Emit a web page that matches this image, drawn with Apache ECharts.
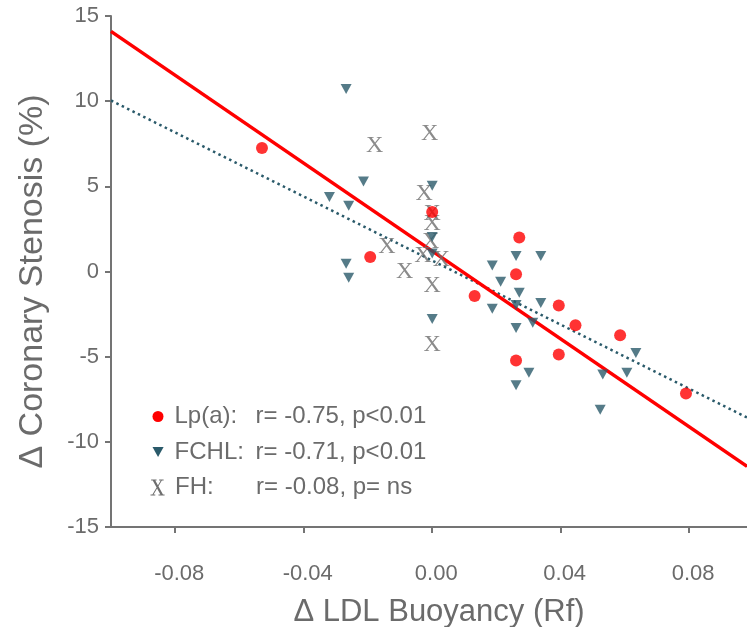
<!DOCTYPE html>
<html>
<head>
<meta charset="utf-8">
<script src="https://cdn.jsdelivr.net/npm/echarts@6/dist/echarts.min.js"></script>
<style>
html,body{margin:0;padding:0;background:#fff;}
#chart{width:747px;height:627px;}
</style>
</head>
<body>
<div id="chart"></div>
<script>
// ---- data ----
var seriesNames = ['Lp(a)', 'FCHL', 'FH'];
var statTexts = ['r= -0.75, p<0.01', 'r= -0.71, p<0.01', 'r= -0.08, p= ns'];

var lpX = [-0.0530, -0.0193, 0.0000, 0.0132, 0.0271, 0.0261, 0.0261, 0.0394, 0.0394, 0.0446, 0.0585, 0.0790];
var lpY = [7.25, 0.85, 3.5, -1.44, 1.99, -0.16, -5.22, -1.99, -4.87, -3.15, -3.74, -7.16];

var fchlX = [-0.0268, -0.0214, -0.0320, -0.0260, -0.0268, -0.0260, 0.0000, 0.0000, 0.0000, 0.0000,
             0.0187, 0.0213, 0.0187, 0.0261, 0.0338, 0.0271, 0.0261, 0.0338, 0.0313, 0.0261,
             0.0634, 0.0301, 0.0531, 0.0606, 0.0261, 0.0523];
var fchlY = [10.72, 5.29, 4.38, 3.86, 0.46, -0.36, 5.03, 2.03, 1.06, -2.79,
             0.35, -0.60, -2.19, 0.91, 0.91, -1.25, -1.97, -1.85, -3.01, -3.31,
             -4.78, -5.95, -6.05, -5.95, -6.68, -8.11];

var fhX = [-0.0008, -0.0179, -0.0025, 0.0000, 0.0000, -0.0005, -0.0141, -0.0029, 0.0029, -0.0086, 0.0000, 0.0000];
var fhY = [8.09, 7.38, 4.54, 3.38, 2.82, 1.76, 1.46, 0.91, 0.68, -0.03, -0.85, -4.32];

// regression lines: [intercept, slope]
var lpFit = [1.2, -129];
var fchlFit = [0.64, -94];

var xTicks = [-0.08, -0.04, 0.00, 0.04, 0.08];
var xRange = [-0.1, 0.098];
var yRange = [-15, 15];

// ---- build ----
function pairs(xs, ys) { return xs.map(function (x, i) { return [x, ys[i]]; }); }
function fitLine(f) { return xRange.map(function (x) { return [x, f[0] + f[1] * x]; }); }

var FONT = 'Liberation Sans, Arial, Helvetica, sans-serif';
var GREY = '#6b6b6b';
var AXIS = '#747474';
var RED = '#ff0000';
var TEAL = '#2a5a6a';
var XGREY = '#6e6e6e';
var TRI = 'path://M0,0L10,0L5,9Z';
var XPATH = 'path://M22,6L38,6L86,94L70,94Z M72,6L79,6L27,94L20,94Z M12,0L46,0L46,6L12,6Z M62,0L90,0L90,6L62,6Z M8,94L38,94L38,100L8,100Z M58,94L96,94L96,100L58,100Z';

function legendFor(i, icon, color, w, h, left, top) {
  return {
    orient: 'vertical', left: left, top: top, padding: 0,
    itemWidth: w, itemHeight: h, itemGap: 0, selectedMode: false,
    data: [{ name: seriesNames[i], icon: icon, itemStyle: { color: color, opacity: 1 } }],
    formatter: function (name) {
      return '{n|' + name + ':}{v|' + statTexts[seriesNames.indexOf(name)] + '}';
    },
    textStyle: {
      color: GREY, fontFamily: FONT, fontSize: 24,
      rich: {
        n: { width: 81, fontSize: 24, fontFamily: FONT, color: GREY },
        v: { fontSize: 24, fontFamily: FONT, color: GREY }
      }
    }
  };
}

var chart = echarts.init(document.getElementById('chart'), null, { renderer: 'canvas' });
chart.setOption({
  animation: false,
  backgroundColor: '#ffffff',
  grid: { left: 111, right: 0, top: 16, bottom: 100, containLabel: false, outerBoundsMode: 'none' },
  xAxis: {
    type: 'value', min: xRange[0], max: xRange[1],
    axisLine: { show: true, onZero: false, lineStyle: { color: AXIS, width: 2 } },
    axisTick: { show: true, inside: false, length: 6, customValues: xTicks, lineStyle: { color: AXIS, width: 2 } },
    axisLabel: { customValues: xTicks, margin: 36, fontSize: 22, fontFamily: FONT, color: GREY,
      padding: [0, 0, 0, 8],
      formatter: function (v) { return v.toFixed(2); } },
    splitLine: { show: false },
    name: '\u0394 LDL Buoyancy (Rf)', nameLocation: 'middle', nameGap: 70,
    nameTextStyle: { fontSize: 31, fontFamily: FONT, color: GREY, padding: [0, 0, 0, 20] }
  },
  yAxis: {
    type: 'value', min: yRange[0], max: yRange[1], interval: 5,
    axisLine: { show: true, onZero: false, lineStyle: { color: AXIS, width: 2 } },
    axisTick: { show: true, inside: false, length: 6, lineStyle: { color: AXIS, width: 2 } },
    axisLabel: { margin: 12, fontSize: 22, fontFamily: FONT, color: GREY },
    splitLine: { show: false },
    name: '\u0394 Coronary Stenosis (%)', nameLocation: 'middle', nameGap: 61, nameRotate: 90,
    nameTextStyle: { fontSize: 34, fontFamily: FONT, color: GREY, padding: [0, 20, 0, 0] }
  },
  legend: [
    legendFor(0, 'circle', RED, 23, 11, 152.5, 404.5),
    legendFor(1, TRI, TEAL, 23, 10, 152.5, 440),
    legendFor(2, XPATH, XGREY, 25, 16, 150.5, 475.5)
  ],
  series: [
    {
      name: 'fitFCHL', type: 'line', silent: true, symbol: 'none', z: 1,
      data: fitLine(fchlFit),
      lineStyle: { color: TEAL, width: 2.5, type: [2.5, 3.5] }
    },
    {
      name: 'fitLp', type: 'line', silent: true, symbol: 'none', z: 2,
      data: fitLine(lpFit),
      lineStyle: { color: RED, width: 3.5 }
    },
    {
      name: seriesNames[2], type: 'scatter', z: 3,
      data: pairs(fhX, fhY),
      symbol: 'circle', symbolSize: 2,
      itemStyle: { color: 'rgba(0,0,0,0)' },
      label: { show: true, position: 'inside', formatter: 'X',
        fontFamily: 'Liberation Serif, Times New Roman, serif', fontSize: 24, color: XGREY }
    },
    {
      name: seriesNames[1], type: 'scatter', z: 4,
      data: pairs(fchlX, fchlY),
      symbol: TRI, symbolSize: [11, 10],
      itemStyle: { color: TEAL }
    },
    {
      name: seriesNames[0], type: 'scatter', z: 5,
      data: pairs(lpX, lpY),
      symbol: 'circle', symbolSize: 12,
      itemStyle: { color: RED }
    }
  ]
});
</script>
</body>
</html>
